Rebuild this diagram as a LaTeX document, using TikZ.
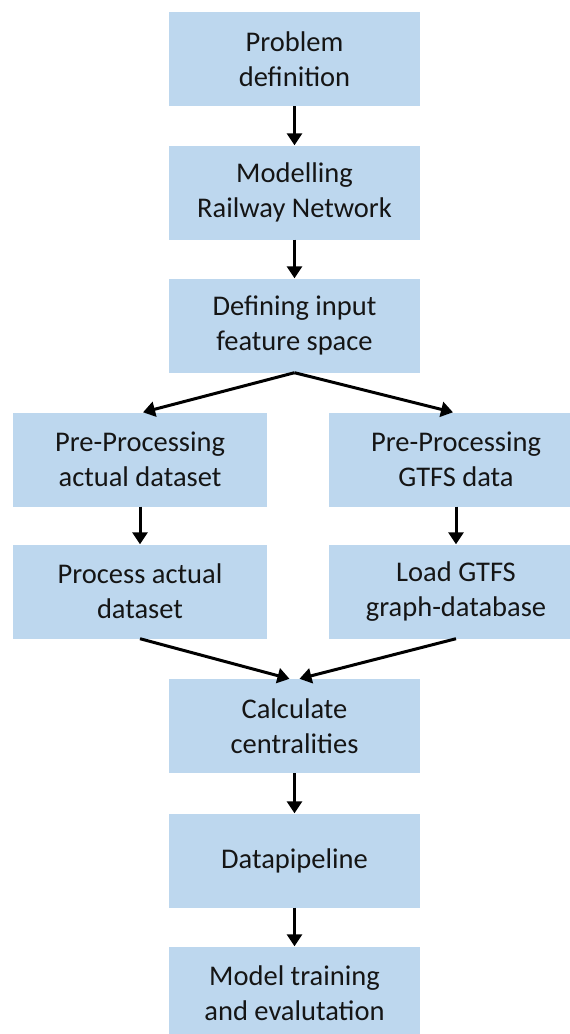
\documentclass[tikz,border=0pt]{standalone}
\usepackage{fontspec}
\setmainfont{Carlito}
\usetikzlibrary{arrows.meta}
\definecolor{boxblue}{HTML}{BDD7EE}
\definecolor{txt}{HTML}{151515}
\tikzset{
  stepbox/.style={fill=boxblue, draw=none, minimum height=94pt, align=center,
    inner sep=0pt, text=txt, font=\fontsize{28.5}{35}\selectfont},
  cbox/.style={stepbox, minimum width=251pt},
  sbox/.style={stepbox, minimum width=254pt},
  flow/.style={line width=3pt, -{Triangle[length=12pt,width=15pt]}, black}
}
\begin{document}
\begin{tikzpicture}[x=1pt,y=1pt]
\useasboundingbox (0,0) rectangle (570,-1034);
\clip (0,0) rectangle (570,-1034);
\node[cbox] (pd) at (294.5,-59) {Problem\\definition};
\node[cbox] (mr) at (294.5,-192.5) {Modelling\\Railway Network};
\node[cbox] (df) at (294.5,-325.5) {Defining input\\feature space};
\node[sbox] (pa) at (140,-459.5) {Pre-Processing\\actual dataset};
\node[sbox] (pg) at (456,-459.5) {Pre-Processing\\GTFS data};
\node[sbox] (ca) at (140,-591.5) {Process actual\\dataset};
\node[sbox] (lg) at (456,-591.5) {Load GTFS\\graph-database};
\node[cbox] (cc) at (294.5,-726) {Calculate\\centralities};
\node[cbox] (dp) at (294.5,-860.5) {Datapipeline};
\node[cbox] (mt) at (294.5,-993.5) {Model training\\and evalutation};
\draw[flow] (pd) -- (mr);
\draw[flow] (mr) -- (df);
\draw[flow] (df.south) -- ([xshift=3pt]pa.north);
\draw[flow] (df.south) -- ([xshift=-3pt]pg.north);
\draw[flow] (pa) -- (ca);
\draw[flow] (pg) -- (lg);
\draw[flow] (ca.south) -- ([xshift=-5pt]cc.north);
\draw[flow] (lg.south) -- ([xshift=5pt]cc.north);
\draw[flow] (cc) -- (dp);
\draw[flow] (dp) -- (mt);
\end{tikzpicture}
\end{document}
